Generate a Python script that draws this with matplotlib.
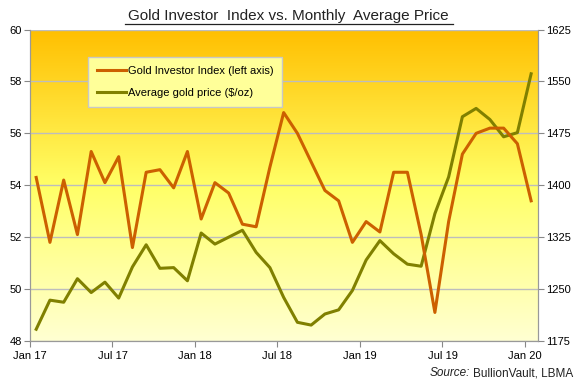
import numpy as np
import matplotlib.pyplot as plt
from matplotlib.colors import LinearSegmentedColormap

plt.rcParams['font.family'] = ['Liberation Sans', 'DejaVu Sans']

# monthly data, Jan 2017 .. Jan 2020
investor_index = [54.3, 51.8, 54.2, 52.1, 55.3, 54.1, 55.1, 51.6, 54.5, 54.6, 53.9, 55.3,
                  52.7, 54.1, 53.7, 52.5, 52.4, 54.7, 56.8, 56.0, 54.9, 53.8, 53.4, 51.8,
                  52.6, 52.2, 54.5, 54.5, 52.1, 49.1, 52.6, 55.2, 56.0, 56.2, 56.2, 55.6, 53.4]
gold_price = [1192, 1234, 1231, 1265, 1245, 1260, 1237, 1282, 1314, 1280, 1281, 1262,
              1331, 1315, 1325, 1335, 1303, 1281, 1238, 1202, 1198, 1214, 1220, 1248,
              1292, 1320, 1301, 1286, 1283, 1359, 1412, 1499, 1511, 1495, 1470, 1476, 1561]
tick_labels = ["Jan 17", "Jul 17", "Jan 18", "Jul 18", "Jan 19", "Jul 19", "Jan 20"]

months = np.arange(len(investor_index)) + 0.45

fig = plt.figure(figsize=(5.75, 3.81), dpi=100)
ax = fig.add_axes([30 / 575, 40 / 381, 508 / 575, 311.5 / 381])
ax2 = ax.twinx()
# left axis (investor index) drawn on top, background + grid live on ax2
ax.set_zorder(ax2.get_zorder() + 1)
ax.patch.set_visible(False)

# gradient background
cmap = LinearSegmentedColormap.from_list(
    "bg", [(0, "#FFFFD2"), (0.5, "#FFFF66"), (1, "#FFBF00")])
grad = np.linspace(0, 1, 256).reshape(-1, 1)
ax2.imshow(grad, cmap=cmap, aspect='auto', origin='lower',
           extent=[0, 1, 0, 1], transform=ax2.transAxes, zorder=0)

l2, = ax2.plot(months, gold_price, color='#808000', lw=2.2, zorder=3,
               label='Average gold price ($/oz)')
l1, = ax.plot(months, investor_index, color='#CC6000', lw=2.2,
              label='Gold Investor Index (left axis)')

ax.set_xlim(0, 36.95)
ax.set_ylim(48, 60)
ax2.set_ylim(1175, 1625)
ax.set_yticks(np.arange(48, 61, 2))
ax2.set_yticks(np.arange(1175, 1626, 75))
ax.set_xticks(np.arange(0, 37, 6))
ax.set_xticklabels(tick_labels)

ax2.grid(True, color='#BDBDBD', lw=1, zorder=1)
ax2.xaxis.grid(True)
ax2.set_axisbelow(True)
for a in (ax, ax2):
    a.tick_params(labelsize=8, length=4, width=0.8, color='#888888', pad=2)
    for s in a.spines.values():
        s.set_color('#999999')
        s.set_linewidth(0.8)
ax.spines['top'].set_visible(False)
ax2.spines['top'].set_visible(False)
ax.tick_params(axis='x', pad=3)

leg = ax.legend(handles=[l1, l2], loc='upper left', bbox_to_anchor=(0.114, 0.912),
                fontsize=8, frameon=True, fancybox=False, facecolor='#FFFF99',
                edgecolor='#C8C8C8', framealpha=1, handlelength=2.6,
                handletextpad=0.2, labelspacing=1.1, borderpad=0.8, borderaxespad=0)
leg.get_frame().set_linewidth(1)

fig.text(0.502, 0.957, "Gold Investor  Index vs. Monthly  Average Price",
         ha='center', va='center', fontsize=11, color='#222222')
fig.add_artist(plt.Line2D([125 / 575, 453 / 575], [1 - 24 / 381, 1 - 24 / 381],
                          color='#222222', lw=0.9))

# source note: italic "Source:" followed by plain text
src = fig.text(573 / 575, 1 - 373 / 381, "BullionVault, LBMA", ha='right', va='center',
               fontsize=8.5, color='#222222')
fig.canvas.draw()
bb = src.get_window_extent(fig.canvas.get_renderer())
fig.text((bb.x0 - 3) / fig.bbox.width, 1 - 373 / 381, "Source:", ha='right', va='center',
         fontsize=8.5, style='italic', color='#222222')

plt.savefig("out.png", dpi=100)
